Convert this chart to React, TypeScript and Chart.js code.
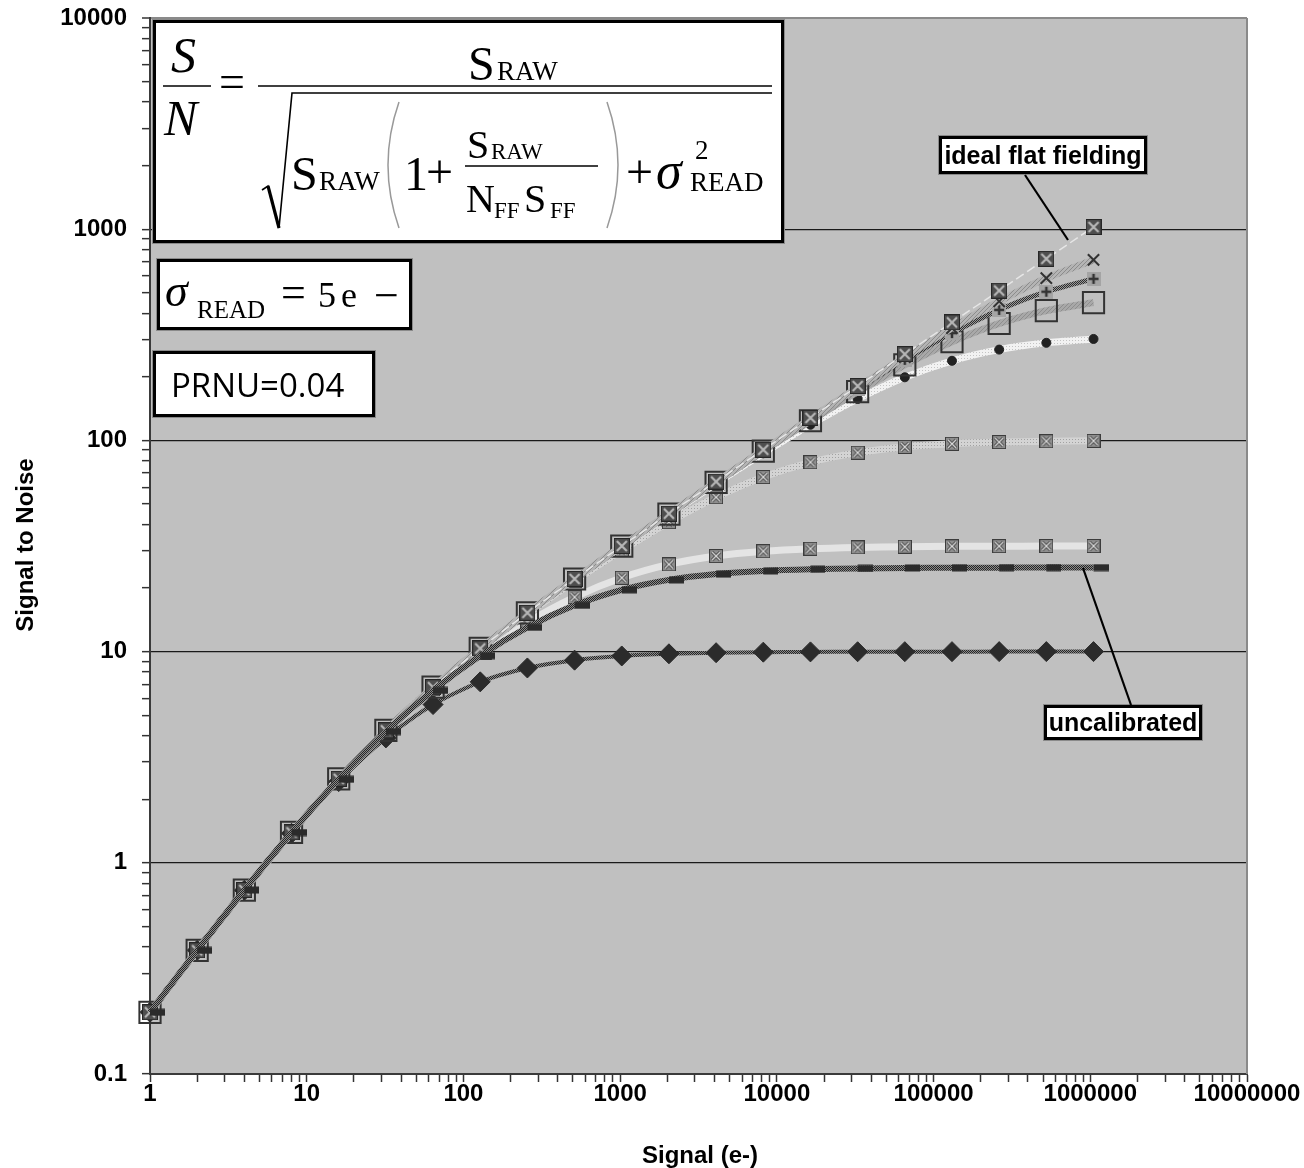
import React, { useEffect, useRef } from 'react';
import { Chart, registerables } from 'chart.js';

Chart.register(...registerables);

if (typeof document !== 'undefined') {
  document.body.style.margin = '0';
  document.documentElement.style.overflow = 'hidden';
  document.body.style.overflow = 'hidden';
}

// ---------- data ----------
const signal = [1, 2, 4, 8, 16, 32, 64, 128, 256, 512, 1024, 2048, 4096, 8192, 16384, 32768, 65536, 131072, 262144, 524288, 1048576];

const snIdeal = [0.196, 0.385, 0.743, 1.393, 2.499, 4.239, 6.784, 10.35, 15.27, 22.09, 31.62, 44.98, 63.81, 90.37, 127.9, 180.9, 256.0, 362.0, 512.0, 724.1, 1024.0];
const snFF1e6 = [0.196, 0.385, 0.743, 1.393, 2.499, 4.238, 6.784, 10.35, 15.27, 22.09, 31.60, 44.94, 63.68, 90.00, 126.9, 178.1, 248.0, 340.4, 455.7, 586.5, 715.4];
const snFF5e5 = [0.196, 0.385, 0.743, 1.393, 2.499, 4.238, 6.783, 10.35, 15.27, 22.08, 31.58, 44.89, 63.55, 89.64, 125.9, 175.3, 240.7, 322.2, 414.7, 505.9, 581.9];
const snFF25e4 = [0.196, 0.385, 0.743, 1.393, 2.499, 4.238, 6.783, 10.35, 15.27, 22.07, 31.55, 44.80, 63.29, 88.93, 123.9, 170.2, 227.8, 293.2, 357.7, 411.4, 449.3];
const snFF1e5 = [0.196, 0.385, 0.743, 1.393, 2.498, 4.238, 6.782, 10.34, 15.25, 22.04, 31.46, 44.53, 62.54, 86.89, 118.6, 157.1, 199.0, 238.2, 269.1, 289.8, 302.2];
const snFF1e4 = [0.196, 0.385, 0.743, 1.393, 2.498, 4.235, 6.768, 10.29, 15.10, 21.57, 30.15, 41.02, 53.79, 67.05, 78.78, 87.52, 93.14, 96.39, 98.14, 99.06, 99.53];
const snFF1e3 = [0.196, 0.385, 0.743, 1.391, 2.491, 4.201, 6.633, 9.835, 13.75, 18.11, 22.36, 25.87, 28.33, 29.85, 30.70, 31.15, 31.38, 31.50, 31.56, 31.59, 31.61];
const snUncal = [0.196, 0.385, 0.743, 1.391, 2.486, 4.179, 6.547, 9.562, 13.03, 16.56, 19.61, 21.85, 23.28, 24.10, 24.54, 24.76, 24.88, 24.94, 24.97, 24.99, 24.99];
const snFF100 = [0.196, 0.385, 0.741, 1.379, 2.424, 3.902, 5.614, 7.191, 8.366, 9.110, 9.534, 9.762, 9.880, 9.939, 9.970, 9.985, 9.992, 9.996, 9.998, 9.999, 10.00];

const xTickLabels = ['1', '10', '100', '1000', '10000', '100000', '1000000', '10000000'];
const yTickLabels = ['0.1', '1', '10', '100', '1000', '10000'];

const xTitle = 'Signal (e-)';
const yTitle = 'Signal to Noise';
const idealLabel = 'ideal flat fielding';
const uncalLabel = 'uncalibrated';
const prnuLabel = 'PRNU=0.04';

// ---------- styling helpers ----------
const SANS = '"Liberation Sans", Arial, sans-serif';
const SERIF = '"Liberation Serif", "Times New Roman", serif';
const W = 1304;
const H = 1168;

function decadeTicks(labels: string[]): number[] {
  const vals: number[] = [];
  const e0 = Math.round(Math.log10(Number(labels[0])));
  const e1 = Math.round(Math.log10(Number(labels[labels.length - 1])));
  for (let e = e0; e <= e1; e++) {
    for (let m = 1; m <= 9; m++) {
      if (e === e1 && m > 1) break;
      vals.push(Number((m * Math.pow(10, e)).toPrecision(6)));
    }
  }
  return vals;
}
const isDecade = (v: number) => Math.abs(Math.log10(v) - Math.round(Math.log10(v))) < 1e-9;

function mk(w: number, h: number, draw: (g: CanvasRenderingContext2D) => void) {
  const c = document.createElement('canvas');
  c.width = w;
  c.height = h;
  draw(c.getContext('2d') as CanvasRenderingContext2D);
  return c;
}

function T(props: { x: number; b: number; f: number; it?: boolean; children: React.ReactNode }) {
  const { x, b, f, it, children } = props;
  return (
    <span
      style={{
        position: 'absolute',
        left: x,
        top: b - 0.8375 * f,
        fontSize: f,
        lineHeight: 1,
        fontFamily: SERIF,
        fontStyle: it ? 'italic' : 'normal',
        whiteSpace: 'pre',
        color: '#000',
      }}
    >
      {children}
    </span>
  );
}

const boxStyle = (l: number, t: number, w: number, h: number): React.CSSProperties => ({
  position: 'absolute',
  left: l,
  top: t,
  width: w,
  height: h,
  boxSizing: 'border-box',
  border: '3px solid #000',
  background: '#fff',
  boxShadow: '0 0 0 1px #8a8a8a',
});

export default function App() {
  const ref = useRef<HTMLCanvasElement>(null);

  useEffect(() => {
    const canvas = ref.current as HTMLCanvasElement;
    const ctx = canvas.getContext('2d') as CanvasRenderingContext2D;

    const pat = (w: number, h: number, draw: (g: CanvasRenderingContext2D) => void) =>
      ctx.createPattern(mk(w, h, draw), 'repeat') as CanvasPattern;

    const checker = (dark: string, light: string) =>
      pat(2, 2, (g) => {
        g.fillStyle = light;
        g.fillRect(0, 0, 2, 2);
        g.fillStyle = dark;
        g.fillRect(0, 0, 1, 1);
        g.fillRect(1, 1, 1, 1);
      });
    const hatch = (dark: string, light: string) =>
      pat(4, 4, (g) => {
        g.fillStyle = light;
        g.fillRect(0, 0, 4, 4);
        g.fillStyle = dark;
        for (let i = 0; i < 4; i++) g.fillRect(i, 3 - i, 1, 1);
      });
    const dots = (dark: string, light: string) =>
      pat(3, 3, (g) => {
        g.fillStyle = light;
        g.fillRect(0, 0, 3, 3);
        g.fillStyle = dark;
        g.fillRect(1, 1, 1, 1);
      });

    const idealMarker = mk(16, 16, (g) => {
      g.fillStyle = '#4e4e4e';
      g.fillRect(0, 0, 16, 16);
      g.strokeStyle = '#262626';
      g.lineWidth = 1;
      g.strokeRect(0.5, 0.5, 15, 15);
      g.strokeStyle = '#b8b8b8';
      g.lineWidth = 2.2;
      g.beginPath();
      g.moveTo(3, 3); g.lineTo(13, 13);
      g.moveTo(13, 3); g.lineTo(3, 13);
      g.stroke();
    });
    const boxXMarker = mk(14, 14, (g) => {
      g.fillStyle = '#8e8e8e';
      g.fillRect(0, 0, 14, 14);
      g.strokeStyle = '#3c3c3c';
      g.lineWidth = 1;
      g.strokeRect(0.5, 0.5, 13, 13);
      g.beginPath();
      g.moveTo(3, 3); g.lineTo(11, 11);
      g.moveTo(11, 3); g.lineTo(3, 11);
      g.strokeStyle = '#333';
      g.lineWidth = 3;
      g.stroke();
      g.strokeStyle = '#dcdcdc';
      g.lineWidth = 1.4;
      g.stroke();
    });
    const plusMarker = mk(14, 14, (g) => {
      g.fillStyle = '#a4a4a4';
      g.fillRect(0, 0, 14, 14);
      g.strokeStyle = '#333';
      g.lineWidth = 2.5;
      g.beginPath();
      g.moveTo(7, 2); g.lineTo(7, 12);
      g.moveTo(2, 7); g.lineTo(12, 7);
      g.stroke();
    });
    const dashMarker = mk(30, 8, (g) => {
      g.fillStyle = '#2b2b2b';
      g.fillRect(15, 0.5, 15, 7);
    });

    const pts = (arr: number[]) => signal.map((s, i) => ({ x: s, y: arr[i] }));

    const base = { tension: 0.25, clip: false as const, pointHoverRadius: 0, fill: false };

    const xTicks = decadeTicks(xTickLabels);
    const yTicks = decadeTicks(yTickLabels);

    const bgPlugin = {
      id: 'plotBg',
      beforeDraw(chart: any) {
        const a = chart.chartArea;
        const c = chart.ctx;
        c.save();
        c.fillStyle = '#fff';
        c.fillRect(0, 0, chart.width, chart.height);
        c.fillStyle = '#c0c0c0';
        c.fillRect(a.left, a.top, a.right - a.left, a.bottom - a.top);
        c.restore();
      },
      beforeDatasetsDraw(chart: any) {
        const a = chart.chartArea;
        const c = chart.ctx;
        c.save();
        c.strokeStyle = '#8a8a8a';
        c.lineWidth = 2;
        c.beginPath();
        c.moveTo(a.right, a.top);
        c.lineTo(a.right, a.bottom);
        c.stroke();
        c.restore();
      },
    };

    const tickFont = { family: SANS, size: 24, weight: 'bold' as const, lineHeight: 1 };

    const chart = new Chart(ctx, {
      type: 'line',
      data: {
        datasets: [
          { ...base, label: uncalLabel, data: pts(snUncal), borderColor: checker('#262626', '#8a8a8a'), borderWidth: 6, pointStyle: dashMarker, pointRadius: 7 },
          { ...base, label: idealLabel, data: pts(snIdeal), borderColor: '#e6e6e6', borderWidth: 1.5, borderDash: [9, 4], pointStyle: idealMarker, pointRadius: 8 },
          { ...base, label: 'NFF*SFF=1000000', data: pts(snFF1e6), borderColor: hatch('#8c8c8c', '#b4b4b4'), borderWidth: 7, pointStyle: 'crossRot', pointRadius: 8, pointBorderColor: '#333', pointBorderWidth: 2 },
          { ...base, label: 'NFF*SFF=500000', data: pts(snFF5e5), borderColor: checker('#2e2e2e', '#999'), borderWidth: 5, pointStyle: plusMarker, pointRadius: 7 },
          { ...base, label: 'NFF*SFF=250000', data: pts(snFF25e4), borderColor: hatch('#8e8e8e', '#a8a8a8'), borderWidth: 7, pointStyle: 'rect', pointRadius: 15, pointBorderColor: '#333', pointBorderWidth: 2, pointBackgroundColor: 'rgba(0,0,0,0)' },
          { ...base, label: 'NFF*SFF=100000', data: pts(snFF1e5), borderColor: dots('#c4c4c4', '#f2f2f2'), borderWidth: 7, pointStyle: 'circle', pointRadius: 4.5, pointBackgroundColor: '#222', pointBorderColor: '#222', pointBorderWidth: 1 },
          { ...base, label: 'NFF*SFF=10000', data: pts(snFF1e4), borderColor: dots('#a2a2a2', '#d4d4d4'), borderWidth: 7, pointStyle: boxXMarker, pointRadius: 7 },
          { ...base, label: 'NFF*SFF=1000', data: pts(snFF1e3), borderColor: '#e4e4e4', borderWidth: 7, pointStyle: boxXMarker, pointRadius: 7 },
          { ...base, label: 'NFF*SFF=100', data: pts(snFF100), borderColor: checker('#262626', '#8a8a8a'), borderWidth: 4, pointStyle: 'rectRot', pointRadius: 10, pointBackgroundColor: '#2b2b2b', pointBorderColor: '#2b2b2b', pointBorderWidth: 1 },
        ] as any,
      },
      options: {
        animation: false,
        responsive: false,
        devicePixelRatio: 1,
        events: [],
        layout: { autoPadding: false, padding: { top: 18, left: 0, right: 57, bottom: 0 } },
        plugins: { legend: { display: false }, tooltip: { enabled: false }, title: { display: false } },
        scales: {
          x: {
            type: 'logarithmic',
            min: Number(xTickLabels[0]),
            max: Number(xTickLabels[xTickLabels.length - 1]),
            afterBuildTicks: (s: any) => { s.ticks = xTicks.map((v) => ({ value: v })); },
            afterFit: (s: any) => { s.height = 94; s.paddingLeft = 0; s.paddingRight = 0; },
            ticks: {
              autoSkip: false,
              maxRotation: 0,
              minRotation: 0,
              padding: 0,
              color: '#000',
              font: tickFont,
              callback: (v: any) => (isDecade(Number(v)) ? xTickLabels[Math.round(Math.log10(Number(v)))] : ''),
            },
            grid: { drawOnChartArea: false, drawTicks: true, tickLength: 8, tickColor: '#333', tickWidth: 1.5 },
            border: { display: true, color: '#3a3a3a', width: 2 },
          },
          y: {
            type: 'logarithmic',
            min: Number(yTickLabels[0]),
            max: Number(yTickLabels[yTickLabels.length - 1]),
            afterBuildTicks: (s: any) => { s.ticks = yTicks.map((v) => ({ value: v })); },
            afterFit: (s: any) => { s.width = 150; s.paddingTop = 0; s.paddingBottom = 0; },
            ticks: {
              autoSkip: false,
              padding: 15,
              color: '#000',
              font: tickFont,
              callback: (v: any) => (isDecade(Number(v)) ? yTickLabels[Math.round(Math.log10(Number(v))) + 1] : ''),
            },
            grid: {
              color: (c: any) => {
                const v = c.tick ? c.tick.value : 0;
                if (!isDecade(v)) return 'rgba(0,0,0,0)';
                if (v >= 10000) return '#8a8a8a';
                if (v <= 0.1) return 'rgba(0,0,0,0)';
                return '#1a1a1a';
              },
              lineWidth: (c: any) => (c.tick && c.tick.value >= 10000 ? 2 : 1.3),
              tickLength: 8,
              tickColor: '#333',
              tickWidth: 1.5,
            },
            border: { display: true, color: '#3a3a3a', width: 2 },
          },
        },
      } as any,
      plugins: [bgPlugin],
    });

    return () => chart.destroy();
  }, []);

  return (
    <div style={{ position: 'relative', width: W, height: H, overflow: 'hidden', background: '#fff' }}>
      <canvas ref={ref} width={W} height={H} style={{ display: 'block', width: W, height: H }} />

      {/* axis titles */}
      <div style={{ position: 'absolute', left: 600, top: 1143, width: 200, textAlign: 'center', font: `bold 24px ${SANS}`, lineHeight: '24px', color: '#000' }}>{xTitle}</div>
      <div style={{ position: 'absolute', left: 25 - 150, top: 545 - 12, width: 300, height: 24, textAlign: 'center', font: `bold 24px ${SANS}`, lineHeight: '24px', color: '#000', transform: 'rotate(-90deg)' }}>{yTitle}</div>

      {/* equation box */}
      <div style={boxStyle(153, 20, 631, 223)} />
      <T x={171} b={72} f={50} it>S</T>
      <T x={164} b={135} f={50} it>N</T>
      <T x={219} b={98} f={46}>=</T>
      <T x={468} b={80} f={48}>S</T>
      <T x={497} b={81} f={27}>RAW</T>
      <T x={291} b={190} f={48}>S</T>
      <T x={319} b={191} f={27}>RAW</T>
      <T x={404} b={190} f={48}>1</T>
      <T x={426} b={188} f={48}>+</T>
      <T x={467} b={158} f={40}>S</T>
      <T x={491} b={159} f={23}>RAW</T>
      <T x={466} b={212} f={40}>N</T>
      <T x={494} b={218} f={23}>FF</T>
      <T x={524} b={212} f={40}>S</T>
      <T x={550} b={218} f={23}>FF</T>
      <T x={626} b={188} f={48}>+</T>
      <T x={656} b={189} f={52} it>σ</T>
      <T x={695} b={160} f={27}>2</T>
      <T x={690} b={192} f={27}>READ</T>

      {/* sigma box */}
      <div style={boxStyle(157, 259, 255, 71)} />
      <T x={165} b={307} f={46} it>σ</T>
      <T x={197} b={318} f={25}>READ</T>
      <T x={281} b={308} f={44}>=</T>
      <T x={318} b={307} f={36}>5</T>
      <T x={341} b={307} f={36}>e</T>
      <T x={374} b={311} f={44}>−</T>

      {/* PRNU box */}
      <div style={boxStyle(153, 351, 222, 66)} />
      <span style={{ position: 'absolute', left: 171, top: 368, fontFamily: '"Open Sans", sans-serif', fontSize: 33, lineHeight: 1, color: '#000', whiteSpace: 'pre' }}>{prnuLabel}</span>

      {/* callout labels */}
      <div style={{ ...boxStyle(939, 136, 208, 38), display: 'flex', alignItems: 'center', justifyContent: 'center', font: `bold 25px ${SANS}`, color: '#000', whiteSpace: 'pre' }}>{idealLabel}</div>
      <div style={{ ...boxStyle(1044, 705, 158, 35), display: 'flex', alignItems: 'center', justifyContent: 'center', font: `bold 25px ${SANS}`, color: '#000', whiteSpace: 'pre' }}>{uncalLabel}</div>

      <svg width={W} height={H} style={{ position: 'absolute', left: 0, top: 0, pointerEvents: 'none' }}>
        <g fill="none" stroke="#000">
          <line x1={163} y1={86} x2={211} y2={86} strokeWidth={1.6} />
          <line x1={258} y1={86} x2={772} y2={86} strokeWidth={1.6} />
          <path d="M262 190 L268 186 L279 228 L292 93 L772 93" strokeWidth={1.6} strokeLinejoin="miter" />
          <line x1={268} y1={186} x2={279} y2={228} strokeWidth={3.2} />
          <path d="M399 102 Q377 165 399 228" stroke="#999" strokeWidth={1.5} />
          <path d="M607 102 Q629 165 607 228" stroke="#999" strokeWidth={1.5} />
          <line x1={465} y1={166} x2={598} y2={166} strokeWidth={1.6} />
          <line x1={1025} y1={175} x2={1068} y2={240} strokeWidth={2.2} />
          <line x1={1083} y1={568} x2={1131} y2={705} strokeWidth={2.2} />
        </g>
      </svg>
    </div>
  );
}
